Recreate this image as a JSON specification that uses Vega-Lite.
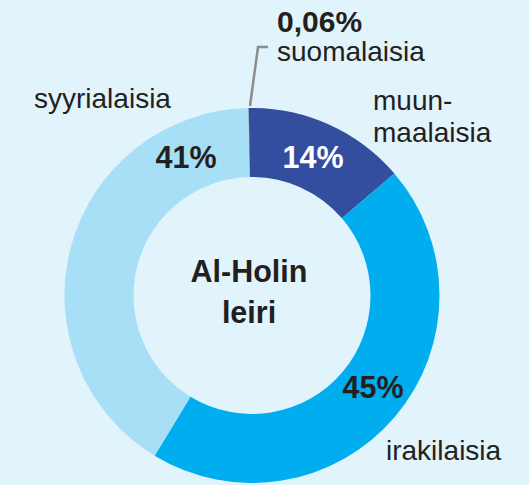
{
  "$schema": "https://vega.github.io/schema/vega-lite/v6.json",
  "autosize": {"type": "none"},
  "padding": {"left": 65, "top": 108, "right": 90, "bottom": 2},
  "width": 374,
  "height": 375,
  "background": "#e1f3fb",
  "config": {"view": {"stroke": null}, "font": "Liberation Sans"},
  "resolve": {"scale": {"x": "shared", "y": "shared"}},
  "layer": [
    {
      "data": {"values": [
        {"group": "suomalaisia", "value": 0.06, "order": 1},
        {"group": "muunmaalaisia", "value": 14, "order": 2},
        {"group": "irakilaisia", "value": 45, "order": 3},
        {"group": "syyrialaisia", "value": 41, "order": 4}
      ]},
      "mark": {"type": "arc", "innerRadius": 118.5, "outerRadius": 187.5},
      "encoding": {
        "theta": {"field": "value", "type": "quantitative", "stack": true, "scale": {"range": [-0.021, 6.2622]}},
        "order": {"field": "order", "type": "quantitative"},
        "color": {"field": "group", "type": "nominal", "legend": null,
          "scale": {"domain": ["suomalaisia", "muunmaalaisia", "irakilaisia", "syyrialaisia"],
                    "range": ["#8f8f8f", "#334d9f", "#00adee", "#a7dff7"]}}
      }
    },
    {
      "data": {"values": [
        {"px": 185, "py": -2, "k": 1},
        {"px": 193, "py": -61, "k": 2},
        {"px": 203, "py": -61, "k": 3}
      ]},
      "mark": {"type": "line", "color": "#8c8c8c", "strokeWidth": 2.5},
      "encoding": {
        "x": {"field": "px", "type": "quantitative", "scale": {"domain": [0, 374], "nice": false, "zero": false}, "axis": null},
        "y": {"field": "py", "type": "quantitative", "scale": {"domain": [0, 375], "nice": false, "zero": false, "reverse": true}, "axis": null},
        "order": {"field": "k", "type": "quantitative"}
      }
    },
    {
      "data": {"values": [
        {"label": "suomalaisia", "px": 212, "py": -47},
        {"label": "syyrialaisia", "px": -31, "py": 0},
        {"label": "muun-", "px": 308, "py": 2},
        {"label": "maalaisia", "px": 308, "py": 34},
        {"label": "irakilaisia", "px": 321, "py": 352}
      ]},
      "mark": {"type": "text", "align": "left", "baseline": "alphabetic", "fontSize": 28, "color": "#231f20"},
      "encoding": {
        "x": {"field": "px", "type": "quantitative", "scale": {"domain": [0, 374], "nice": false, "zero": false}, "axis": null},
        "y": {"field": "py", "type": "quantitative", "scale": {"domain": [0, 375], "nice": false, "zero": false, "reverse": true}, "axis": null},
        "text": {"field": "label"}
      }
    },
    {
      "data": {"values": [
        {"label": "0,06%", "px": 212, "py": -76}
      ]},
      "mark": {"type": "text", "align": "left", "baseline": "alphabetic", "fontSize": 30, "fontWeight": "bold", "color": "#231f20"},
      "encoding": {
        "x": {"field": "px", "type": "quantitative", "scale": {"domain": [0, 374], "nice": false, "zero": false}, "axis": null},
        "y": {"field": "py", "type": "quantitative", "scale": {"domain": [0, 375], "nice": false, "zero": false, "reverse": true}, "axis": null},
        "text": {"field": "label"}
      }
    },
    {
      "data": {"values": [
        {"label": "41%", "px": 121, "py": 60},
        {"label": "14%", "px": 248, "py": 60},
        {"label": "45%", "px": 308, "py": 290},
        {"label": "Al-Holin", "px": 184, "py": 174},
        {"label": "leiri", "px": 184, "py": 215}
      ]},
      "mark": {"type": "text", "align": "center", "baseline": "alphabetic", "fontSize": 30.5, "fontWeight": "bold"},
      "encoding": {
        "x": {"field": "px", "type": "quantitative", "scale": {"domain": [0, 374], "nice": false, "zero": false}, "axis": null},
        "y": {"field": "py", "type": "quantitative", "scale": {"domain": [0, 375], "nice": false, "zero": false, "reverse": true}, "axis": null},
        "text": {"field": "label"},
        "color": {"condition": {"test": "datum.label === '14%'", "value": "#ffffff"}, "value": "#231f20"}
      }
    }
  ]
}
